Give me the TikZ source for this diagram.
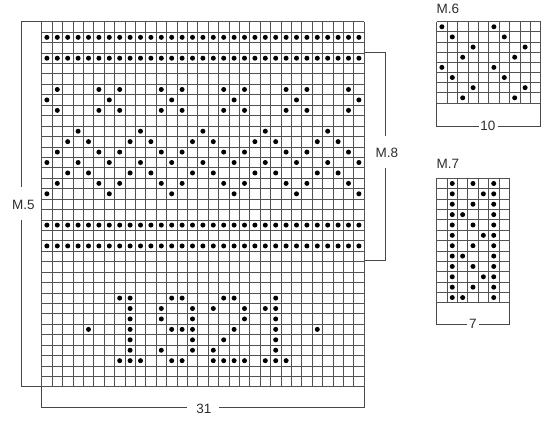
\documentclass[tikz,border=0pt]{standalone}
\usepackage{fontspec}
\setmainfont{Liberation Sans}
\newcommand\chartgrid[6]{% x0, y0, cw, ch, ncols, nrows
  \foreach \ii in {0,...,#5} \draw[gridline] ({#1+\ii*#3},#2) -- ({#1+\ii*#3},{#2+#6*#4});
  \foreach \jj in {0,...,#6} \draw[gridline] (#1,{#2+\jj*#4}) -- ({#1+#5*#3},{#2+\jj*#4});
}
\begin{document}
\begin{tikzpicture}[x=1pt,y=-1pt,
  gridline/.style={draw=black!68, line width=0.7pt},
  bracket/.style={draw=black!72, line width=0.9pt},
  lbl/.style={font=\fontsize{13.5}{14}\selectfont, text=black!82, inner sep=0pt},
  dotmark/.style={fill=black}]
\useasboundingbox (0,0) rectangle (550,428);
\fill[white] (0,0) rectangle (550,428);

% ---------------- main chart (M.5 / M.8) ----------------
\def\mx{41.7}\def\my{21.7}\def\mw{10.4}\def\mh{10.43}
\chartgrid{\mx}{\my}{\mw}{\mh}{31}{35}
\foreach \r in {2,4,20,22}
  \foreach \c in {1,...,31}
    \fill[dotmark] ({\mx+(\c-0.5)*\mw},{\my+(\r-0.5)*\mh}) circle (2.5);
\foreach \r/\cs in {7/{2,6,8,12,14,18,20,24,26,30},
                    9/{2,6,8,12,14,18,20,24,26,30},
                    13/{2,6,8,12,14,18,20,24,26,30},
                    16/{2,6,8,12,14,18,20,24,26,30},
                    8/{1,7,13,19,25,31},
                    17/{1,7,13,19,25,31},
                    11/{4,10,16,22,28},
                    12/{3,5,9,11,15,17,21,23,27,29},
                    15/{3,5,9,11,15,17,21,23,27,29},
                    14/{1,4,7,10,13,16,19,22,25,28,31},
                    27/{8,9,13,14,18,19,23},
                    28/{9,12,15,17,20,22,23},
                    29/{9,12,15,20,23},
                    30/{5,9,13,14,15,19,23,27},
                    31/{9,15,18,23},
                    32/{9,12,15,17,23},
                    33/{8,9,10,13,14,17,18,19,20,22,23,24}}
  \foreach \c in \cs
    \fill[dotmark] ({\mx+(\c-0.5)*\mw},{\my+(\r-0.5)*\mh}) circle (2.5);

% M.5 bracket
\node[lbl] (m5) at (23.3,205) {M.5};
\draw[bracket] (41.7,21.7) -- (21,21.7) -- (21,187.3);
\draw[bracket] (21,220) -- (21,386.7) -- (41.7,386.7);
% width bracket
\node[lbl] (n31) at (203.8,408.8) {31};
\draw[bracket] (41.7,386.7) -- (41.7,407.7) -- (187.3,407.7);
\draw[bracket] (219.3,407.7) -- (364.1,407.7) -- (364.1,386.7);
% M.8 bracket
\node[lbl] (m8) at (387,153) {M.8};
\draw[bracket] (364.1,52.9) -- (385,52.9) -- (385,136);
\draw[bracket] (385,168.3) -- (385,260.8) -- (364.1,260.8);

% ---------------- M.6 ----------------
\def\ax{436.7}\def\ay{21.7}\def\aw{10.4}\def\ah{10.15}
\node[lbl, anchor=west] (m6) at (436.5,8.4) {M.6};
\chartgrid{\ax}{\ay}{\aw}{\ah}{10}{8}
\foreach \r/\cs in {1/{1,6},2/{2,7},3/{4,9},4/{3,8},5/{1,6},6/{2,7},7/{4,9},8/{3,8}}
  \foreach \c in \cs
    \fill[dotmark] ({\ax+(\c-0.5)*\aw},{\ay+(\r-0.5)*\ah}) circle (2.5);
\draw[bracket] (436.7,102.9) -- (436.7,126.7) -- (479,126.7);
\draw[bracket] (498,126.7) -- (540.7,126.7) -- (540.7,102.9);
\node[lbl] (n10) at (488,126.2) {10};

% ---------------- M.7 ----------------
\def\bx{436.7}\def\by{178.3}\def\bw{10.37}\def\bh{10.37}
\node[lbl, anchor=west] (m7) at (436.5,164.2) {M.7};
\chartgrid{\bx}{\by}{\bw}{\bh}{7}{12}
\foreach \r/\cs in {1/{2,4,6},2/{2,5,6},3/{2,4,6},4/{2,3,6},5/{2,4,6},6/{2,5,6},
                    7/{2,4,6},8/{2,3,6},9/{2,4,6},10/{2,5,6},11/{2,4,6},12/{2,3,6}}
  \foreach \c in \cs
    \fill[dotmark] ({\bx+(\c-0.5)*\bw},{\by+(\r-0.5)*\bh}) circle (2.5);
\draw[bracket] (436.7,302.7) -- (436.7,324) -- (467,324);
\draw[bracket] (479,324) -- (509.3,324) -- (509.3,302.7);
\node[lbl] (n7) at (473,323.5) {7};
\end{tikzpicture}
\end{document}
